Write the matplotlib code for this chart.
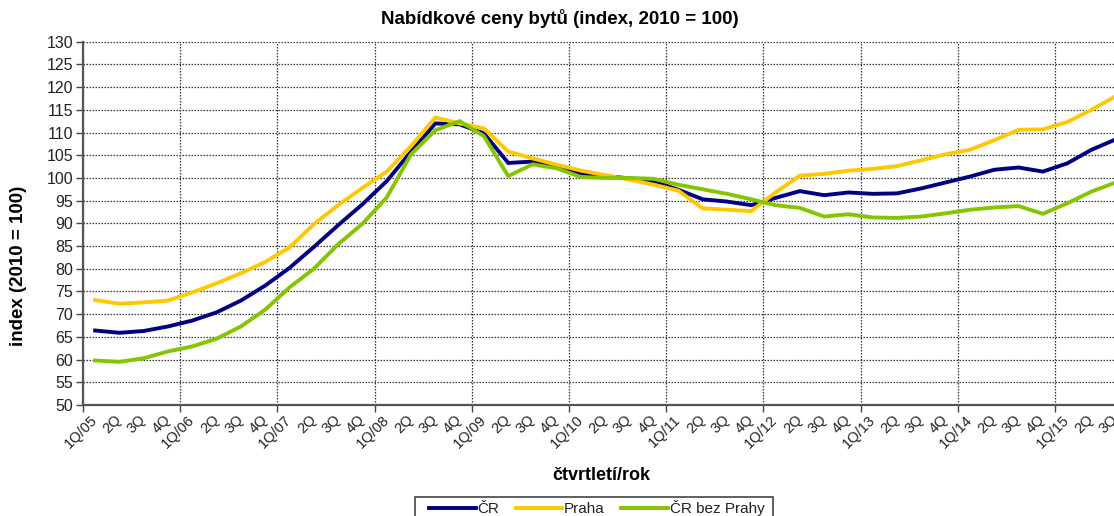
import matplotlib
matplotlib.use("Agg")
import matplotlib.pyplot as plt
from matplotlib.lines import Line2D
from matplotlib.patches import Rectangle

plt.rcParams['font.family'] = ['Liberation Sans', 'DejaVu Sans']

# ---- data ----
quarters = ["1Q/05", "2Q", "3Q", "4Q",
            "1Q/06", "2Q", "3Q", "4Q",
            "1Q/07", "2Q", "3Q", "4Q",
            "1Q/08", "2Q", "3Q", "4Q",
            "1Q/09", "2Q", "3Q", "4Q",
            "1Q/10", "2Q", "3Q", "4Q",
            "1Q/11", "2Q", "3Q", "4Q",
            "1Q/12", "2Q", "3Q", "4Q",
            "1Q/13", "2Q", "3Q", "4Q",
            "1Q/14", "2Q", "3Q", "4Q",
            "1Q/15", "2Q", "3Q"]

cr = [66.4, 65.9, 66.3, 67.3, 68.6, 70.4, 73.0, 76.3, 80.2, 84.8,
      89.6, 94.2, 99.3, 105.8, 112.0, 111.8, 109.8, 103.3, 103.6, 102.4,
      101.0, 100.4, 99.9, 99.2, 97.4, 95.3, 94.8, 94.0, 95.6, 97.1,
      96.2, 96.8, 96.5, 96.6, 97.7, 99.0, 100.3, 101.8, 102.3, 101.4,
      103.2, 106.2, 108.5]

praha = [73.1, 72.3, 72.6, 73.0, 74.8, 76.8, 79.0, 81.5, 84.7, 89.8,
         94.0, 97.8, 101.4, 107.0, 113.3, 112.0, 110.9, 105.8, 104.3, 102.9,
         101.6, 100.6, 99.6, 98.5, 97.2, 93.3, 93.0, 92.7, 96.8, 100.5,
         100.9, 101.6, 102.0, 102.6, 103.9, 105.2, 106.2, 108.3, 110.6, 110.7,
         112.3, 115.0, 118.0]

cr_bez_prahy = [59.8, 59.5, 60.3, 61.8, 62.9, 64.6, 67.3, 71.0, 75.9, 80.0,
                85.4, 89.9, 95.7, 105.2, 110.5, 112.5, 109.2, 100.4, 103.0, 102.1,
                100.2, 100.0, 100.0, 99.8, 98.5, 97.5, 96.5, 95.3, 94.0, 93.4,
                91.5, 92.0, 91.3, 91.2, 91.5, 92.2, 93.0, 93.5, 93.8, 92.1,
                94.4, 97.0, 99.0]

series_names = ["ČR", "Praha", "ČR bez Prahy"]
series_colors = ["#000080", "#FFC800", "#86C400"]

# ---- figure ----
W, H = 1114, 516
fig = plt.figure(figsize=(W / 100, H / 100), dpi=100)
n = len(quarters)
left_px, right_px, top_px, bot_px = 83, 83 + n * 24.3, 41.7, 405
ax = fig.add_axes([left_px / W, 1 - bot_px / H,
                   (right_px - left_px) / W, (bot_px - top_px) / H])

x = list(range(n))
for vals, name, col, z in zip([cr, praha, cr_bez_prahy], series_names,
                              series_colors, [3, 4, 5]):
    ax.plot(x, vals, color=col, lw=2.8, label=name, zorder=z,
            solid_joinstyle='miter')

ax.set_xlim(-0.5, n - 0.5)
ax.set_ylim(50, 130)
ax.set_yticks(range(50, 131, 5))

# year boundaries (major) and category centres (minor, labelled)
bounds = [i - 0.5 for i in range(0, n, 4)]
ax.set_xticks(bounds)
ax.set_xticklabels([])
ax.set_xticks(x, minor=True)
ax.set_xticklabels(quarters, minor=True, rotation=45, ha='right',
                   va='center', rotation_mode='anchor', fontsize=10.5,
                   color='#222222')
ax.tick_params(axis='x', which='major', length=5, width=1, color='#444444',
               direction='out')
ax.tick_params(axis='x', which='minor', length=0, pad=9)
ax.tick_params(axis='y', length=5, width=1, color='#444444', direction='out',
               labelsize=11.5, labelcolor='#222222', pad=2)

grid_kw = dict(color='#333333', lw=0.9, linestyle=(0, (1.2, 1.2)))
ax.yaxis.grid(True, **grid_kw)
ax.xaxis.grid(True, which='major', **grid_kw)
ax.set_axisbelow(True)

for s in ['top', 'right']:
    ax.spines[s].set_visible(False)
for s in ['left', 'bottom']:
    ax.spines[s].set_color('#555555')
    ax.spines[s].set_linewidth(1.6)

fig.text(560 / W, 1 - 18 / H, "Nabídkové ceny bytů (index, 2010 = 100)",
         ha='center', va='center', fontsize=13.5, fontweight='bold')
fig.text(19 / W, 1 - 266 / H, "index (2010 = 100)", rotation=90,
         ha='center', va='center', fontsize=13.5, fontweight='bold')
fig.text(601 / W, 1 - 475 / H, "čtvrtletí/rok", ha='center', va='center',
         fontsize=13, fontweight='bold')

# legend (frame drawn separately so it can run off the bottom edge)
handles = [Line2D([], [], color=c, lw=2.8) for c in series_colors]
leg = fig.legend(handles, series_names, loc='upper left',
                 bbox_to_anchor=(429 / W, 1 - 500 / H), ncol=3,
                 fontsize=11, frameon=False,
                 handlelength=3.05, handletextpad=0.1, columnspacing=1.1,
                 borderpad=0, borderaxespad=0)
for t in leg.get_texts():
    t.set_color('#222222')
fig.patches.append(Rectangle((415 / W, -0.05), (773 - 415) / W,
                             (1 - 497 / H) + 0.05, transform=fig.transFigure,
                             fill=False, edgecolor='#444444', lw=1.2))

fig.savefig("out.png", dpi=100)
